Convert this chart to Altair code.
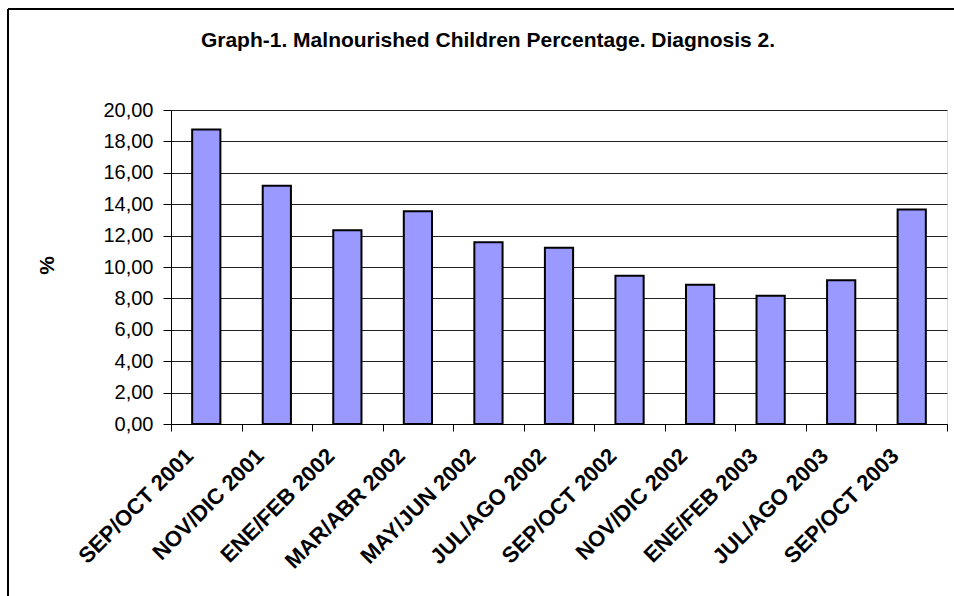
import altair as alt
import pandas as pd

# Survey periods and the share of malnourished children in each (%)
periods = [
    "SEP/OCT 2001", "NOV/DIC 2001", "ENE/FEB 2002", "MAR/ABR 2002",
    "MAY/JUN 2002", "JUL/AGO 2002", "SEP/OCT 2002", "NOV/DIC 2002",
    "ENE/FEB 2003", "JUL/AGO 2003", "SEP/OCT 2003",
]
percent = [18.76, 15.17, 12.34, 13.55, 11.57, 11.23, 9.44, 8.87, 8.17, 9.15, 13.66]
y_ticks = [0, 2, 4, 6, 8, 10, 12, 14, 16, 18, 20]
chart_title = "Graph-1. Malnourished Children Percentage. Diagnosis 2."

df = pd.DataFrame({"period": periods, "pct": percent})

FONT = "Liberation Sans"
PLOT_W, PLOT_H = 776, 314
LEFT, TOP = 171, 110

bars = alt.Chart(df).mark_bar(
    color="#9999FF", stroke="#000000", strokeWidth=2,
    width=alt.RelativeBandSize(0.4),
).encode(
    x=alt.X("period:N", sort=periods,
            scale=alt.Scale(paddingInner=0, paddingOuter=0),
            axis=alt.Axis(title=None, tickBand="extent", labelAngle=-45,
                          labelAlign="right", labelBaseline="middle",
                          labelFont=FONT, labelFontWeight="bold", labelFontSize=22,
                          labelColor="#000000", labelPadding=21, labelOffset=-17,
                          tickSize=7, tickColor="#000000", domainColor="#000000",
                          grid=False, labelOverlap=False)),
    y=alt.Y("pct:Q", scale=alt.Scale(domain=[0, 20], nice=False),
            axis=alt.Axis(title="%", values=y_ticks,
                          labelExpr="replace(format(datum.value, '.2f'), '.', ',')",
                          labelFont=FONT, labelFontSize=20, labelColor="#000000",
                          labelPadding=10, tickSize=8, tickColor="#000000",
                          domainColor="#000000", gridColor="#222222", gridWidth=1,
                          titleFont=FONT, titleFontSize=21, titleFontWeight="bold",
                          titleColor="#000000", titleAngle=-90, titleX=-124,
                          titleY=PLOT_H / 2 - 2, titleAlign="center",
                          titleBaseline="middle")),
)

# Chart heading, centred on the outer frame
heading = alt.Chart(pd.DataFrame({"t": [chart_title]})).mark_text(
    font=FONT, fontSize=21, fontWeight="bold", color="#000000",
    align="center", baseline="middle",
).encode(text="t:N", x=alt.value(488 - LEFT), y=alt.value(41 - TOP))

# Outer chart frame (top and left edges)
frame_top = alt.Chart(df).mark_rule(color="#000000", strokeWidth=2).encode(
    x=alt.value(8 - LEFT), x2=alt.value(960 - LEFT), y=alt.value(9 - TOP)
)
frame_left = alt.Chart(df).mark_rule(color="#000000", strokeWidth=2).encode(
    x=alt.value(8 - LEFT), y=alt.value(9 - TOP), y2=alt.value(600 - TOP)
)

chart = alt.layer(frame_top, frame_left, heading, bars).properties(
    width=PLOT_W, height=PLOT_H,
    autosize=alt.AutoSizeParams(type="none"),
    padding={"left": LEFT, "top": TOP, "right": 954 - LEFT - PLOT_W, "bottom": 596 - TOP - PLOT_H},
).configure_view(stroke=None).configure(background="#ffffff")

chart.save("out.html", embed_options={"renderer": "svg", "actions": False})
